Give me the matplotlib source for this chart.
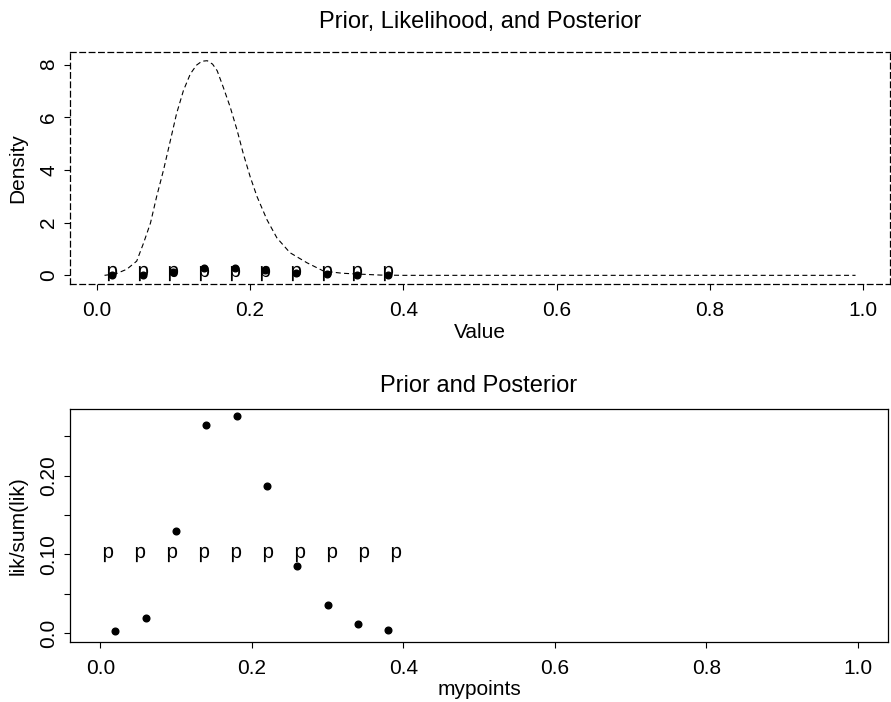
import numpy as np
import matplotlib.pyplot as plt

plt.rcParams['font.family'] = ['Liberation Sans', 'DejaVu Sans']
plt.rcParams['mathtext.fontset'] = 'custom'
plt.rcParams['mathtext.rm'] = 'Liberation Sans'

# grid points and posterior weights (lik/sum(lik))
mypoints = [0.02, 0.06, 0.10, 0.14, 0.18, 0.22, 0.26, 0.30, 0.34, 0.38]
posterior = [0.0025, 0.019, 0.130, 0.265, 0.2765, 0.187, 0.085, 0.036, 0.011, 0.0038]
prior = [0.1] * 10
prior_x_bottom = [0.01, 0.052, 0.094, 0.137, 0.179, 0.221, 0.263, 0.306, 0.348, 0.39]

# density curve
curve_x = [0.01, 0.025, 0.039, 0.052, 0.061, 0.070, 0.078, 0.087, 0.096, 0.104, 0.113,
           0.122, 0.130, 0.137, 0.144, 0.151, 0.157, 0.165, 0.174, 0.183, 0.191, 0.200,
           0.209, 0.222, 0.235, 0.252, 0.274, 0.296, 0.32, 0.34, 0.37, 0.40, 0.99]
curve_y = [0.0, 0.06, 0.23, 0.54, 1.23, 1.99, 2.99, 4.0, 5.13, 6.14, 7.02,
           7.65, 7.98, 8.13, 8.15, 8.02, 7.77, 7.14, 6.39, 5.51, 4.63, 3.75,
           2.99, 2.11, 1.42, 0.86, 0.48, 0.16, 0.08, 0.05, 0.01, 0.0, 0.0]

FS = 15
DASH = (0, (4.5, 3))
fig = plt.figure(figsize=(8.91, 7.02), dpi=100)
ax1 = fig.add_axes([0.0786, 0.5954, 0.9203, 0.3305])
ax2 = fig.add_axes([0.0786, 0.0855, 0.9180, 0.3319])

pmark = r'$\mathrm{p}$'

# top panel
ax1.plot(curve_x, curve_y, color='black', lw=0.8, ls=DASH)
ax1.plot(mypoints, prior, ls='none', marker=pmark, ms=11, mew=0, color='black')
ax1.plot(mypoints, posterior, ls='none', marker='o', ms=4.8, color='black')
ax1.set_xlim(-0.035, 1.035)
ax1.set_ylim(-0.33, 8.48)
ax1.set_yticks([0, 2, 4, 6, 8])
ax1.set_xticks([0.0, 0.2, 0.4, 0.6, 0.8, 1.0])
ax1.set_xticklabels(['0.0', '0.2', '0.4', '0.6', '0.8', '1.0'])
for s in ax1.spines.values():
    s.set_linestyle(DASH)
    s.set_linewidth(0.9)
ax1.set_title('Prior, Likelihood, and Posterior', fontsize=17, pad=17)
ax1.set_xlabel('Value', fontsize=FS)
ax1.set_ylabel('Density', fontsize=FS)
ax1.xaxis.set_label_coords(0.5, -0.211)
ax1.yaxis.set_label_coords(-0.0634, 0.5)

# bottom panel
ax2.plot(prior_x_bottom, prior, ls='none', marker=pmark, ms=11, mew=0, color='black')
ax2.plot(mypoints, posterior, ls='none', marker='o', ms=4.8, color='black')
ax2.set_xlim(-0.04, 1.04)
ax2.set_ylim(-0.0115, 0.285)
ax2.set_yticks([0.0, 0.05, 0.10, 0.15, 0.20, 0.25])
ax2.set_yticklabels(['0.0', '', '0.10', '', '0.20', ''])
ax2.set_xticks([0.0, 0.2, 0.4, 0.6, 0.8, 1.0])
ax2.set_xticklabels(['0.0', '0.2', '0.4', '0.6', '0.8', '1.0'])
for s in ax2.spines.values():
    s.set_linewidth(0.9)
ax2.set_title('Prior and Posterior', fontsize=17, pad=12)
ax2.set_xlabel('mypoints', fontsize=FS)
ax2.set_ylabel('lik/sum(lik)', fontsize=FS)
ax2.xaxis.set_label_coords(0.5, -0.206)
ax2.yaxis.set_label_coords(-0.0634, 0.5)

for ax in (ax1, ax2):
    ax.tick_params(direction='out', length=4, width=0.8, labelsize=FS)
    ax.tick_params(axis='x', pad=8)
    ax.tick_params(axis='y', pad=4.5)
    ax.xaxis.label.set_va('center')
    ax.yaxis.label.set_va('center')
    for lab in ax.get_yticklabels():
        lab.set_rotation(90)
        lab.set_va('center')

fig.savefig('out.png', dpi=100)
